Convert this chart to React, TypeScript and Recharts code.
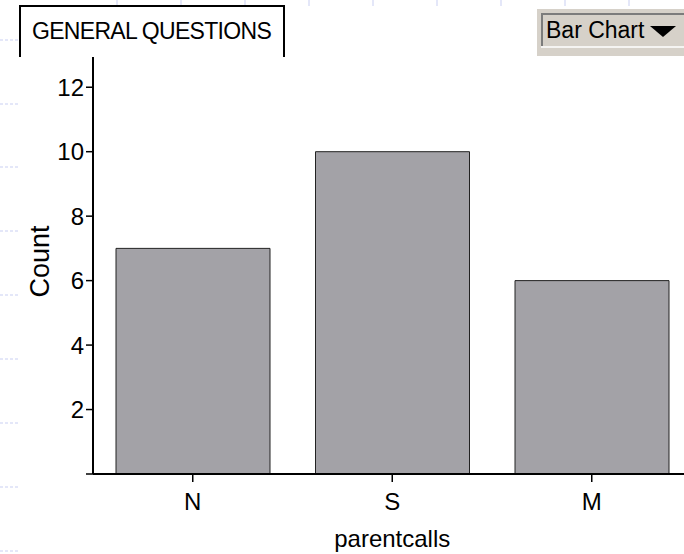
import { BarChart, Bar, XAxis, YAxis } from 'recharts';

const categories = ['N', 'S', 'M'];
const counts = [7, 10, 6];
const countTicks = [0, 2, 4, 6, 8, 10, 12];

const data = categories.map((name, i) => ({ name, count: counts[i] }));

const FONT = '"Liberation Sans", Arial, Helvetica, sans-serif';

// faint guide marks in the background of the original screenshot
const sideDashes = [40, 104, 167, 231, 295, 359, 423, 487, 551];
const topDashes = [117, 181, 245, 309, 373, 437, 501, 565, 629];

function CountLabel(props: any) {
  const vb = props.viewBox || { x: 33, y: 55, width: 60, height: 419 };
  const cx = vb.x + 7;
  const cy = vb.y + vb.height / 2 - 3;
  return (
    <text
      x={cx}
      y={cy}
      transform={`rotate(-90 ${cx} ${cy})`}
      textAnchor="middle"
      dominantBaseline="central"
      fontSize={27}
      fontFamily={FONT}
      fill="#000"
    >
      Count
    </text>
  );
}

export default function App() {
  return (
    <div
      style={{
        position: 'absolute',
        left: 0,
        top: 0,
        width: 684,
        height: 554,
        overflow: 'hidden',
        background: '#fff',
        fontFamily: FONT,
      }}
    >
      <svg width={684} height={554} style={{ position: 'absolute', left: 0, top: 0 }}>
        {sideDashes.map((y) => (
          <line key={'h' + y} x1={0} x2={20} y1={y} y2={y} stroke="#c9cff2" strokeWidth={1} strokeDasharray="3 2" />
        ))}
        {topDashes.map((x) => (
          <line key={'v' + x} x1={x} x2={x} y1={0} y2={6} stroke="#c9cff2" strokeWidth={1} />
        ))}
      </svg>

      <div style={{ position: 'absolute', left: 0, top: 0 }}>
        <BarChart
          width={700}
          height={554}
          data={data}
          margin={{ top: 55, right: 8.5, bottom: 0, left: 33 }}
        >
          <XAxis
            dataKey="name"
            height={80}
            axisLine={{ stroke: '#000', strokeWidth: 2 }}
            tickLine={{ stroke: '#000', strokeWidth: 1.5 }}
            tickSize={8}
            tickMargin={11}
            tick={{ fontSize: 24, fill: '#000', fontFamily: FONT }}
            label={{
              value: 'parentcalls',
              position: 'insideBottom',
              offset: 7,
              fontSize: 24,
              fill: '#000',
              fontFamily: FONT,
            }}
          />
          <YAxis
            width={60}
            domain={[0, 13]}
            ticks={countTicks}
            allowDecimals={false}
            interval={0}
            axisLine={{ stroke: '#000', strokeWidth: 2 }}
            tickLine={{ stroke: '#000', strokeWidth: 1.5 }}
            tickSize={7}
            tickMargin={2}
            tick={{ fontSize: 24, fill: '#000', fontFamily: FONT }}
            tickFormatter={(v: number) => (v === 0 ? '' : String(v))}
            label={{ content: (p: any) => <CountLabel {...p} /> }}
          />
          <Bar
            dataKey="count"
            fill="#a3a2a7"
            stroke="#222"
            strokeWidth={1}
            barSize={154}
            isAnimationActive={false}
          />
        </BarChart>
      </div>

      <svg width={684} height={554} style={{ position: 'absolute', left: 0, top: 0, pointerEvents: 'none' }}>
        <rect x={21} y={7} width={262} height={50} fill="#fff" />
        <path d="M20 57 V6 H284 V57" fill="none" stroke="#000" strokeWidth={2} />
        <text x={32} y={38.5} fontSize={23} letterSpacing={-0.7} fontFamily={FONT} fill="#000">
          GENERAL QUESTIONS
        </text>

        <rect x={537} y={9} width={147} height={47} fill="#d6d1c9" />
        <path d="M542 46 V14 H684" fill="none" stroke="#7c7c7c" strokeWidth={2} />
        <line x1={541} x2={684} y1={47} y2={47} stroke="#fff" strokeWidth={1.5} />
        <text x={546} y={38} fontSize={23} fontFamily={FONT} fill="#000">
          Bar Chart
        </text>
        <polygon points="650,26 676,26 663,37" fill="#000" />
      </svg>
    </div>
  );
}
